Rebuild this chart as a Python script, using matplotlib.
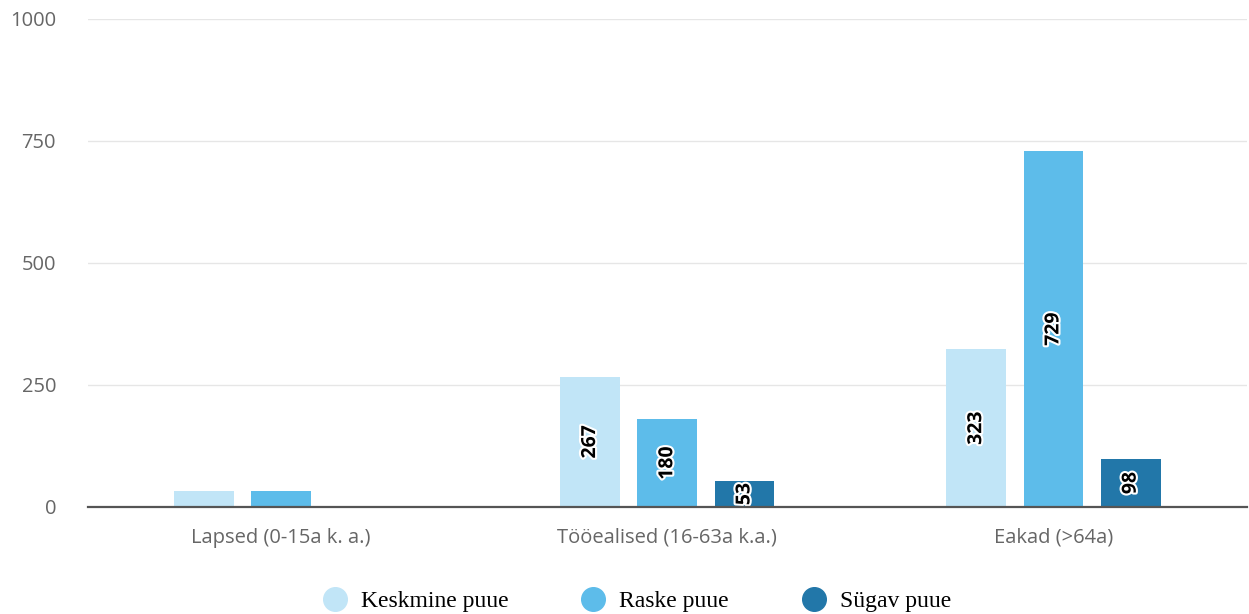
import matplotlib.pyplot as plt
import matplotlib.patheffects as pe
import numpy as np

categories = ["Lapsed (0-15a k. a.)", "Tööealised (16-63a k.a.)", "Eakad (>64a)"]
series_names = ["Keskmine puue", "Raske puue", "Sügav puue"]
keskmine = [33, 267, 323]
raske = [32, 180, 729]
sygav = [0, 53, 98]
labelled = [False, True, True]
colors = ["#c1e5f7", "#5dbcea", "#2277a9"]

fig = plt.figure(figsize=(12.49, 6.14), dpi=100)
ax = fig.add_axes([0.0705, 0.1743, 0.9275, 0.7948])

x = np.arange(len(categories))
width = 0.155
step = 0.2
handles = []
for i, (vals, col, name) in enumerate(zip([keskmine, raske, sygav], colors, series_names)):
    pos = x + (i - 1) * step
    bars = ax.bar(pos, vals, width, color=col, zorder=2, label=name)
    for b, v, show in zip(bars, vals, labelled):
        if show and v > 0:
            ax.text(b.get_x() + b.get_width() / 2, v / 2, str(v), rotation=90,
                    ha="center", va="center", fontsize=14, fontweight="bold",
                    family="Open Sans", color="black", zorder=3,
                    path_effects=[pe.withStroke(linewidth=3, foreground="white")])
    handles.append(plt.Line2D([], [], marker="o", linestyle="", markersize=17,
                              markerfacecolor=col, markeredgecolor=col))

ax.set_xlim(-0.5, 2.5)
ax.set_ylim(0, 1000)
ax.set_yticks([0, 250, 500, 750, 1000])
ax.set_xticks(x)
ax.set_xticklabels(categories)
ax.yaxis.grid(True, color="#e6e6e6", linewidth=1, zorder=0)
ax.set_axisbelow(True)
for s in ["top", "right", "left"]:
    ax.spines[s].set_visible(False)
ax.spines["bottom"].set_color("#555555")
ax.spines["bottom"].set_linewidth(1.6)
ax.spines["bottom"].set_zorder(4)
ax.tick_params(axis="both", length=0, labelsize=14.5, colors="#666666")
ax.tick_params(axis="y", pad=23)
ax.tick_params(axis="x", pad=15)
for t in ax.get_xticklabels() + ax.get_yticklabels():
    t.set_family("Open Sans")

fig.legend(handles, series_names, loc="center", bbox_to_anchor=(0.509, 0.02),
           ncol=3, frameon=False, prop={"family": "Liberation Serif", "size": 17},
           columnspacing=3.0, handletextpad=0.5, handlelength=1.2)

fig.savefig("out.png", dpi=100)
